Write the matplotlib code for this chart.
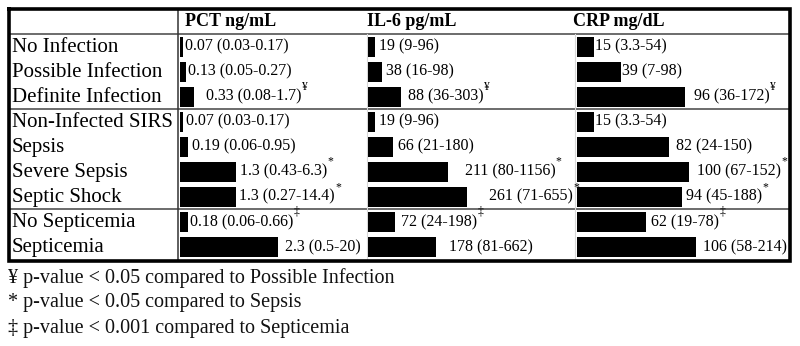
import matplotlib
matplotlib.use("Agg")
import matplotlib.pyplot as plt
from matplotlib.transforms import IdentityTransform

# data
groups = ["No Infection", "Possible Infection", "Definite Infection",
          "Non-Infected SIRS", "Sepsis", "Severe Sepsis", "Septic Shock",
          "No Septicemia", "Septicemia"]
headers = ["PCT ng/mL", "IL-6 pg/mL", "CRP mg/dL"]

pct = [0.07, 0.13, 0.33, 0.07, 0.19, 1.3, 1.3, 0.18, 2.3]
pct_iqr = ["0.03-0.17", "0.05-0.27", "0.08-1.7", "0.03-0.17", "0.06-0.95",
           "0.43-6.3", "0.27-14.4", "0.06-0.66", "0.5-20"]
pct_sig = ["", "", "¥", "", "", "*", "*", "‡", ""]

il6 = [19, 38, 88, 19, 66, 211, 261, 72, 178]
il6_iqr = ["9-96", "16-98", "36-303", "9-96", "21-180", "80-1156",
           "71-655", "24-198", "81-662"]
il6_sig = ["", "", "¥", "", "", "*", "*", "‡", ""]

crp = [15, 39, 96, 15, 82, 100, 94, 62, 106]
crp_iqr = ["3.3-54", "7-98", "36-172", "3.3-54", "24-150", "67-152",
           "45-188", "19-78", "58-214"]
crp_sig = ["", "", "¥", "", "", "*", "*", "‡", ""]

footnotes = ["¥ p-value < 0.05 compared to Possible Infection",
             "* p-value < 0.05 compared to Sepsis",
             "‡ p-value < 0.001 compared to Septicemia"]

# layout (pixels) - gap between bar end and its label, per cell
pct_pad = [1, 1, 10, 2, 2, 3, 2, 1, 5]
il6_pad = [2, 2, 5, 2, 4, 15, 20, 4, 12]
crp_pad = [0, 0, 8, 0, 6, 7, 2, 3, 6]

W, H = 800, 346
serif = "Liberation Serif"
fig = plt.figure(figsize=(W / 100, H / 100), dpi=100)


def fx(x):
    return x / W


def fy(y):
    return 1 - y / H


top, bottom = 34, 259.5
overlay = fig.add_axes([0, 0, 1, 1])
overlay.set_xlim(0, W)
overlay.set_ylim(H, 0)
overlay.axis("off")

# table lines
overlay.plot([8.5, 789.5, 789.5, 8.5, 8.5], [8.5, 8.5, 261, 261, 8.5],
             color="black", lw=2.6, solid_joinstyle="miter", zorder=5)
row_h = (bottom - top) / len(groups)
for y in [top, top + 3 * row_h, top + 7 * row_h]:
    overlay.plot([8.5, 789.5], [y, y], color="#444444", lw=1.1)
overlay.plot([178, 178], [8.5, 261], color="#333333", lw=1.1)
for x in [366.5, 575]:
    overlay.plot([x, x], [top, 261], color="#d8d8d8", lw=0.8)

# row labels
for i, g in enumerate(groups):
    overlay.text(12, top + (i + 0.5) * row_h + 0.5, g, fontsize=15,
                 family=serif, va="center", ha="left")

# footnotes
for i, f in enumerate(footnotes):
    overlay.text(8, 278 + 25 * i, f, fontsize=14.5, family=serif,
                 va="center", ha="left", color="#111111")

columns = [
    (180, 366, 42.8, pct, pct_iqr, pct_sig, pct_pad, 185),
    (368, 574, 0.38, il6, il6_iqr, il6_sig, il6_pad, 367),
    (577, 789, 1.12, crp, crp_iqr, crp_sig, crp_pad, 573),
]

value_texts = []
for left, right, scale, vals, iqr, sig, pad, hx in columns:
    ax = fig.add_axes([fx(left), fy(bottom), fx(right - left),
                       (bottom - top) / H])
    ax.set_xlim(0, (right - left) / scale)
    ax.set_ylim(len(groups) - 0.5, -0.5)
    ax.barh(range(len(vals)), vals, height=0.8, color="black")
    ax.axis("off")
    for i, v in enumerate(vals):
        label = f"{v:g} ({iqr[i]})"
        t = ax.annotate(label, (v, i), xytext=(pad[i] * 0.72 + 1, 0),
                        textcoords="offset points", fontsize=11.5,
                        family=serif, va="center", ha="left")
        value_texts.append((t, sig[i]))
    overlay.text(hx, 22, headers[columns.index((left, right, scale, vals, iqr, sig, pad, hx))],
                 fontsize=13, fontweight="bold", family=serif,
                 va="center", ha="left")

# superscript marks after the value labels
fig.canvas.draw()
renderer = fig.canvas.get_renderer()
for t, s in value_texts:
    if not s:
        continue
    bb = t.get_window_extent(renderer)
    fig.text(bb.x1 + 0.5, bb.y1 - 4, s, fontsize=8.5, family=serif,
             ha="left", va="bottom", transform=IdentityTransform())

fig.savefig("out.png", dpi=100)
